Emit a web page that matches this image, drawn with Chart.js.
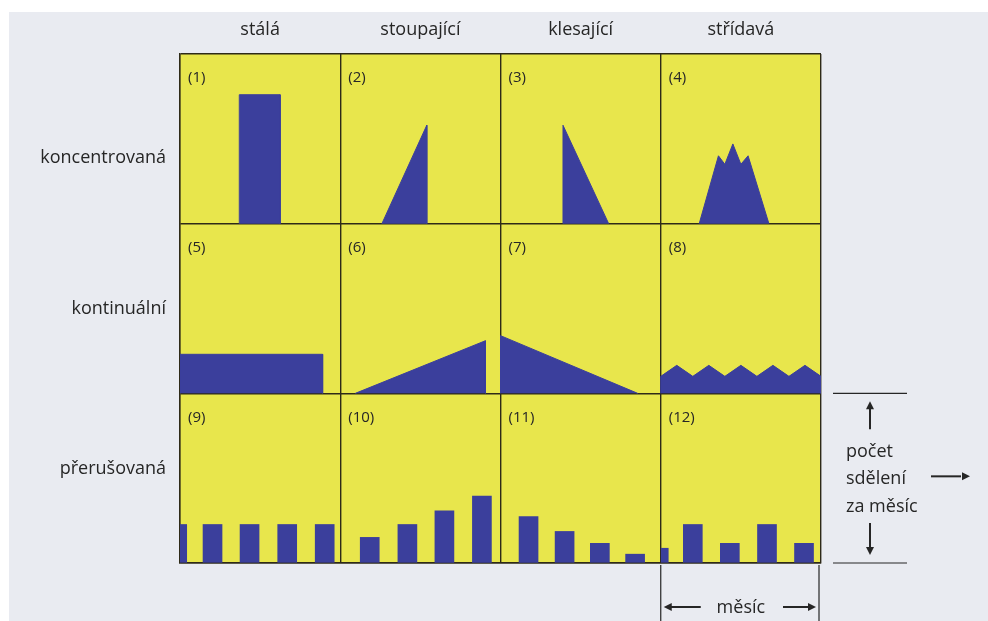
<!DOCTYPE html>
<html>
<head>
<meta charset="utf-8">
<script src="https://cdn.jsdelivr.net/npm/chart.js@4/dist/chart.umd.min.js"></script>
<style>
  html, body { margin: 0; padding: 0; background: #ffffff; }
  canvas { display: block; }
</style>
</head>
<body>
<canvas id="chart" width="988" height="621"></canvas>
<script>
// column / row headings
const columns = ['stálá', 'stoupající', 'klesající', 'střídavá'];
const rows = ['koncentrovaná', 'kontinuální', 'přerušovaná'];

// areas (1)-(8): x = share of the month, y = share of the cell height
const shape1 = [[0.37, 0], [0.37, 0.76], [0.625, 0.76], [0.625, 0]];
const shape2 = [[0.26, 0], [0.54, 0.58], [0.54, 0]];
const shape3 = [[0.39, 0], [0.39, 0.58], [0.675, 0]];
const shape4 = [[0.24, 0], [0.36, 0.40], [0.40, 0.35], [0.45, 0.47], [0.50, 0.35], [0.545, 0.40], [0.675, 0]];
const shape5 = [[0, 0], [0, 0.23], [0.89, 0.23], [0.89, 0]];
const shape6 = [[0.094, 0], [0.906, 0.31], [0.906, 0]];
const shape7 = [[0, 0], [0, 0.34], [0.856, 0]];
const shape8 = [[0, 0], [0, 0.10], [0.1, 0.165], [0.2, 0.10], [0.3, 0.165], [0.4, 0.10], [0.5, 0.165],
  [0.6, 0.10], [0.7, 0.165], [0.8, 0.10], [0.9, 0.165], [1, 0.10], [1, 0]];

// weekly bars (9)-(12)
const weeks9 = [0.203, 0.434, 0.669, 0.903];
const values9 = [0.227, 0.227, 0.227, 0.227];
const weeks10 = [0.184, 0.419, 0.65, 0.884];
const values10 = [0.151, 0.227, 0.308, 0.395];
const weeks11 = [0.175, 0.40, 0.62, 0.84];
const values11 = [0.273, 0.186, 0.116, 0.052];
const weeks12 = [0.20, 0.431, 0.663, 0.894];
const values12 = [0.227, 0.116, 0.227, 0.116];
// bars cut by the left edge of cells (9) and (12)
const cutWeeks = [0.02, 3.025];
const cutValues = [0.227, 0.087];

const BLUE = '#3b3f9c';
const YELLOW = '#e8e64c';
const LINE = '#2e2a18';
const TEXT = '#262626';
const rowBase = [2, 1, 0];

function area(shape, col, row) {
  return {
    type: 'line',
    data: shape.map(([x, y]) => ({x: col + x, y: rowBase[row] + y})),
    fill: {value: rowBase[row]},
    backgroundColor: BLUE,
    borderColor: BLUE,
    borderWidth: 1,
    pointRadius: 0,
    tension: 0
  };
}

function bars(weeks, values, col, thickness) {
  return {
    type: 'bar',
    data: weeks.map((x, i) => ({x: col + x, y: values[i]})),
    backgroundColor: BLUE,
    barThickness: thickness,
    stack: 'weeks'
  };
}

const datasets = [
  area(shape1, 0, 0), area(shape2, 1, 0), area(shape3, 2, 0), area(shape4, 3, 0),
  area(shape5, 0, 1), area(shape6, 1, 1), area(shape7, 2, 1), area(shape8, 3, 1),
  bars(weeks9, values9, 0, 19), bars(weeks10, values10, 1, 19),
  bars(weeks11, values11, 2, 19), bars(weeks12, values12, 3, 19),
  bars(cutWeeks, cutValues, 0, 7)
];

function arrowHead(ctx, x, y, dx, dy) {
  ctx.beginPath();
  ctx.moveTo(x, y);
  ctx.lineTo(x - dx * 8 + dy * 4, y - dy * 8 + dx * 4);
  ctx.lineTo(x - dx * 8 - dy * 4, y - dy * 8 - dx * 4);
  ctx.closePath();
  ctx.fill();
}

const annotate = {
  id: 'annotate',
  beforeDraw(chart) {
    const {ctx, chartArea: a} = chart;
    ctx.save();
    ctx.fillStyle = '#ffffff';
    ctx.fillRect(0, 0, chart.width, chart.height);
    ctx.fillStyle = '#e9ebf1';
    ctx.fillRect(9, 12, chart.width - 9, chart.height - 12);
    ctx.fillStyle = YELLOW;
    ctx.fillRect(a.left, a.top, a.right - a.left, a.bottom - a.top);
    ctx.restore();
  },
  afterDraw(chart) {
    const {ctx, chartArea: a, scales: {x, y}} = chart;
    ctx.save();
    ctx.fillStyle = TEXT;
    ctx.strokeStyle = TEXT;
    ctx.textBaseline = 'middle';

    // column headings
    ctx.font = '18px "Open Sans"';
    ctx.textAlign = 'center';
    columns.forEach((c, i) => ctx.fillText(c, x.getPixelForValue(i + 0.5), 30));

    // row headings
    const shift = [19, 0, -9];
    ctx.textAlign = 'right';
    rows.forEach((r, i) => ctx.fillText(r, a.left - 14, y.getPixelForValue(rowBase[i] + 0.5) + shift[i]));

    // cell numbers
    ctx.font = '15px "Open Sans"';
    ctx.textAlign = 'left';
    for (let r = 0; r < 3; r++) {
      for (let c = 0; c < 4; c++) {
        ctx.fillText('(' + (r * 4 + c + 1) + ')', x.getPixelForValue(c) + 8, y.getPixelForValue(rowBase[r] + 1) + 24);
      }
    }

    // messages per month, right of cell (12)
    const yTop = y.getPixelForValue(1), yBot = y.getPixelForValue(0);
    const lx = a.right + 12, ax = a.right + 49;
    ctx.lineWidth = 1.2;
    ctx.beginPath();
    ctx.moveTo(lx, yTop); ctx.lineTo(lx + 74, yTop);
    ctx.moveTo(lx, yBot); ctx.lineTo(lx + 74, yBot);
    ctx.stroke();
    ctx.lineWidth = 2;
    ctx.beginPath();
    ctx.moveTo(ax, yTop + 36); ctx.lineTo(ax, yTop + 14);
    ctx.moveTo(ax, yBot - 40); ctx.lineTo(ax, yBot - 14);
    ctx.stroke();
    arrowHead(ctx, ax, yTop + 8, 0, -1);
    arrowHead(ctx, ax, yBot - 8, 0, 1);
    ctx.font = '18px "Open Sans"';
    ctx.fillText('počet', a.right + 25, yTop + 59);
    ctx.fillText('sdělení', a.right + 25, yTop + 86);
    ctx.fillText('za měsíc', a.right + 25, yTop + 114);
    ctx.beginPath();
    ctx.moveTo(a.right + 110, yTop + 83); ctx.lineTo(a.right + 140, yTop + 83);
    ctx.stroke();
    arrowHead(ctx, a.right + 149, yTop + 83, 1, 0);

    // one month, under cell (12)
    const mx0 = x.getPixelForValue(3), mx1 = x.getPixelForValue(4);
    const my = a.bottom + 44;
    ctx.lineWidth = 1.2;
    ctx.beginPath();
    ctx.moveTo(mx0, a.bottom + 2); ctx.lineTo(mx0, chart.height);
    ctx.moveTo(mx1 - 2, a.bottom + 2); ctx.lineTo(mx1 - 2, chart.height);
    ctx.stroke();
    ctx.lineWidth = 2;
    ctx.beginPath();
    ctx.moveTo(mx0 + 10, my); ctx.lineTo(mx0 + 40, my);
    ctx.moveTo(mx1 - 38, my); ctx.lineTo(mx1 - 12, my);
    ctx.stroke();
    arrowHead(ctx, mx0 + 3, my, -1, 0);
    arrowHead(ctx, mx1 - 5, my, 1, 0);
    ctx.textAlign = 'center';
    ctx.fillText('měsíc', (mx0 + mx1) / 2, my + 1);
    ctx.restore();
  }
};

new Chart(document.getElementById('chart').getContext('2d'), {
  type: 'bar',
  data: {datasets},
  options: {
    responsive: false,
    animation: false,
    events: [],
    layout: {padding: {left: 180, right: 167, top: 54, bottom: 58}},
    plugins: {legend: {display: false}, tooltip: {enabled: false}},
    scales: {
      x: {
        type: 'linear', min: 0, max: 4, offset: false, z: 1,
        ticks: {display: false, stepSize: 1},
        grid: {color: LINE, lineWidth: 1.4, drawTicks: false, offset: false},
        border: {color: LINE, width: 1.4}
      },
      y: {
        type: 'linear', min: 0, max: 3, z: 1,
        ticks: {display: false, stepSize: 1},
        grid: {color: LINE, lineWidth: 1.4, drawTicks: false},
        border: {color: LINE, width: 1.4}
      }
    }
  },
  plugins: [annotate]
});
</script>
</body>
</html>
